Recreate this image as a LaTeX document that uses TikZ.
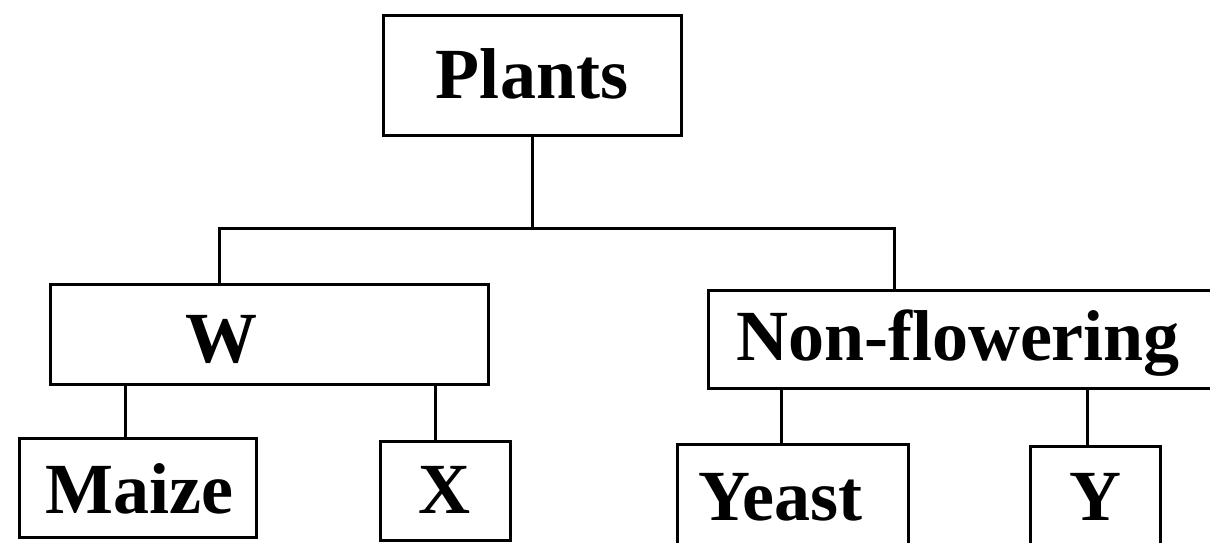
\documentclass[tikz,border=0pt]{standalone}
\usepackage{fontspec}
\setmainfont{Liberation Serif}
\begin{document}
\begin{tikzpicture}[x=1pt,y=-1pt,
  box/.style={draw=black,line width=3pt,inner sep=0pt,fill=none},
  lbl/.style={anchor=base,inner sep=0pt,font=\fontsize{72}{80}\selectfont\bfseries},
  conn/.style={draw=black,line width=3pt}]
\useasboundingbox (0,0) rectangle (1210,542);
\clip (0,0) rectangle (1210,542);
\fill[white] (0,0) rectangle (1210,542);
% boxes
\node[box,minimum width=298pt,minimum height=120pt] (plants) at (532,75) {};
\node[box,minimum width=438pt,minimum height=100pt] (wbox) at (269,334) {};
\node[box,minimum width=508pt,minimum height=98pt] (nfbox) at (962,339) {};
\node[box,minimum width=237pt,minimum height=99pt] (maize) at (137.5,487.5) {};
\node[box,minimum width=130pt,minimum height=99pt] (xbox) at (445,490.5) {};
\node[box,minimum width=231pt,minimum height=104pt] (yeast) at (792.5,496) {};
\node[box,minimum width=130pt,minimum height=102pt] (ybox) at (1095,497) {};
% labels
\node[lbl] (tplants) at (532,98) {Plants};
\node[lbl] (tw) at (221,362) {W};
\node[lbl] (tnf) at (958,360) {Non-flowering};
\node[lbl] (tmaize) at (139,513) {Maize};
\node[lbl] (tx) at (444,513) {X};
\node[lbl] (tyeast) at (780,520) {Yeast};
\node[lbl] (ty) at (1095,520) {Y};
% junctions
\coordinate (wj) at (219,228);
\coordinate (nj) at (894,228);
\coordinate (mz) at (125,0);
\coordinate (xx) at (435,0);
\coordinate (ye) at (781,0);
\coordinate (yy) at (1087,0);
% connectors
\draw[conn] (plants.south) -- (plants.south |- wj);
\draw[conn] (wbox.north -| wj) -- (wj) -- (nj) -- (nfbox.north -| nj);
\draw[conn] (wbox.south -| mz) -- (maize.north -| mz);
\draw[conn] (wbox.south -| xx) -- (xbox.north -| xx);
\draw[conn] (nfbox.south -| ye) -- (yeast.north -| ye);
\draw[conn] (nfbox.south -| yy) -- (ybox.north -| yy);
\end{tikzpicture}
\end{document}
